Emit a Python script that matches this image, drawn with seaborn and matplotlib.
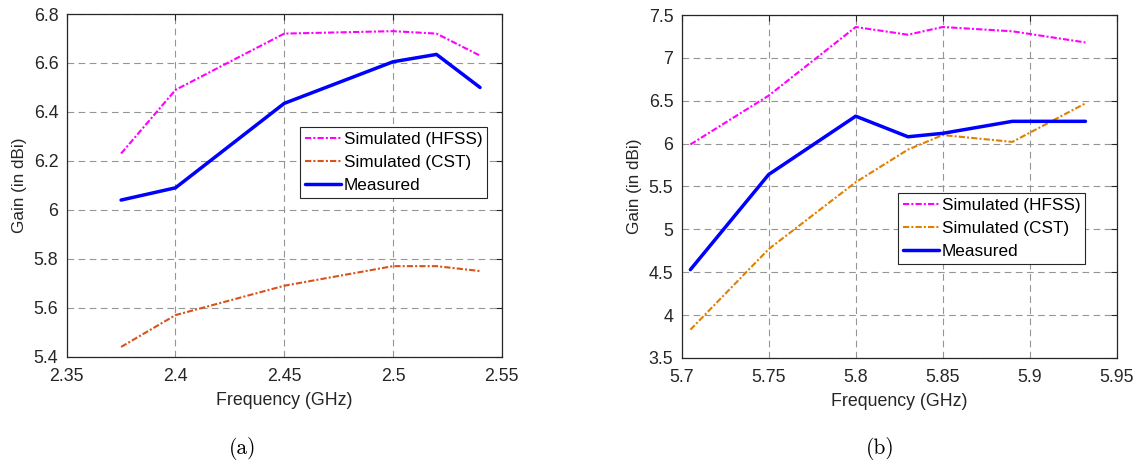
import numpy as np
import pandas as pd
import matplotlib
matplotlib.use("Agg")
import matplotlib.pyplot as plt
from matplotlib.ticker import FuncFormatter
import seaborn as sns

# (a) 2.4 GHz band
freq_a = [2.375, 2.40, 2.45, 2.50, 2.52, 2.54]
hfss_a = [6.23, 6.49, 6.72, 6.73, 6.72, 6.63]
cst_a = [5.44, 5.57, 5.69, 5.77, 5.77, 5.75]
meas_a = [6.04, 6.09, 6.435, 6.605, 6.635, 6.50]

# (b) 5.8 GHz band
freq_b = [5.705, 5.75, 5.80, 5.83, 5.85, 5.89, 5.932]
hfss_b = [5.99, 6.56, 7.36, 7.27, 7.36, 7.31, 7.18]
cst_b = [3.83, 4.77, 5.55, 5.93, 6.10, 6.02, 6.47]
meas_b = [4.53, 5.64, 6.32, 6.08, 6.12, 6.26, 6.26]

xticks_a = [2.35, 2.40, 2.45, 2.50, 2.55]
yticks_a = [5.4, 5.6, 5.8, 6.0, 6.2, 6.4, 6.6, 6.8]
xticks_b = [5.70, 5.75, 5.80, 5.85, 5.90, 5.95]
yticks_b = [3.5, 4.0, 4.5, 5.0, 5.5, 6.0, 6.5, 7.0, 7.5]

series_names = ["Simulated (HFSS)", "Simulated (CST)", "Measured"]

sns.set_style("white")
plt.rcParams["font.family"] = ["Liberation Sans", "DejaVu Sans"]

TXT = "#262626"
DASHDOT = (0, (3, 1, 1, 1))
fig = plt.figure(figsize=(11.48, 4.66), dpi=100)
ax_a = fig.add_axes([0.0581, 0.2345, 0.379, 0.7354])
ax_b = fig.add_axes([0.5938, 0.2318, 0.379, 0.7360])

fmt = FuncFormatter(lambda v, p: f"{v:g}")


def draw(ax, freq, hfss, cst, meas, cst_color, xt, yt, legend_box):
    sns.lineplot(x=freq, y=hfss, ax=ax, color="#FF00FF", linestyle=DASHDOT,
                 linewidth=1.5, label=series_names[0])
    sns.lineplot(x=freq, y=cst, ax=ax, color=cst_color, linestyle=DASHDOT,
                 linewidth=1.5, label=series_names[1])
    sns.lineplot(x=freq, y=meas, ax=ax, color="#0000FF", linestyle="-",
                 linewidth=2.5, label=series_names[2])
    ax.set_xlim(xt[0], xt[-1])
    ax.set_ylim(yt[0], yt[-1])
    ax.set_xticks(xt)
    ax.set_yticks(yt)
    ax.xaxis.set_major_formatter(fmt)
    ax.yaxis.set_major_formatter(fmt)
    ax.grid(True, linestyle=(0, (6, 4)), color="#959595", linewidth=0.8)
    ax.tick_params(direction="in", length=4, width=0.8, colors=TXT,
                   labelsize=12.8, top=True, right=True)
    ax.tick_params(axis="x", pad=8)
    ax.tick_params(axis="y", pad=6)
    for s in ax.spines.values():
        s.set_color("#262626")
        s.set_linewidth(0.9)
    ax.set_xlabel("Frequency (GHz)", fontsize=12.8, color=TXT, labelpad=5)
    ax.set_ylabel("Gain (in dBi)", fontsize=12.3, color=TXT, labelpad=5)
    leg = ax.legend(loc="upper left", bbox_to_anchor=legend_box,
                    bbox_transform=fig.transFigure, fontsize=12.3,
                    frameon=True, fancybox=False, framealpha=1,
                    borderpad=0.3, labelspacing=0.46, handlelength=2.1,
                    handletextpad=0.15, borderaxespad=0)
    leg.get_frame().set_edgecolor("#262626")
    leg.get_frame().set_linewidth(0.8)
    for t in leg.get_texts():
        t.set_color("black")


draw(ax_a, freq_a, hfss_a, cst_a, meas_a, "#D95319", xticks_a, yticks_a,
     (300 / 1148, 1 - 127 / 466))
draw(ax_b, freq_b, hfss_b, cst_b, meas_b, "#E08000", xticks_b, yticks_b,
     (898 / 1148, 1 - 193 / 466))

fig.text(243 / 1148, 1 - 448 / 466, "(a)", family="cmr10", fontsize=15.5,
         ha="center", va="center", color="black")
fig.text(880 / 1148, 1 - 448 / 466, "(b)", family="cmr10", fontsize=15.5,
         ha="center", va="center", color="black")

fig.savefig("out.png", dpi=100)
